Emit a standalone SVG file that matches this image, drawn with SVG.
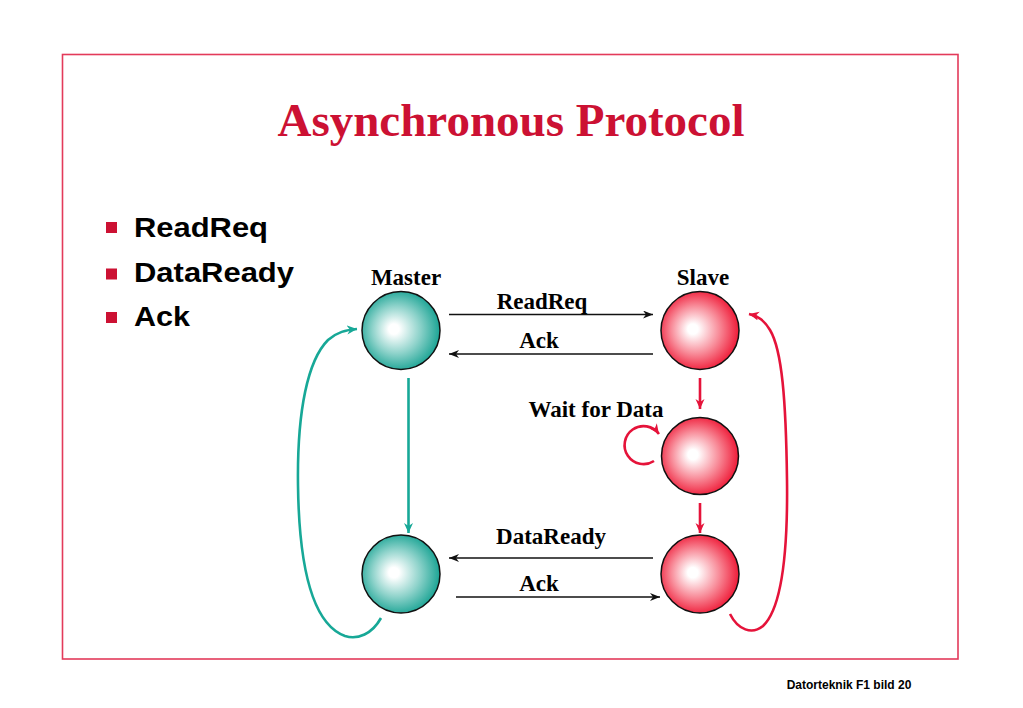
<svg xmlns="http://www.w3.org/2000/svg" width="1023" height="708" viewBox="0 0 1023 708">
<style>
.title{font-family:"Liberation Serif","Times New Roman",serif;font-weight:bold;font-size:47px;fill:#cc1133}
.bul{font-family:"Liberation Sans",Arial,sans-serif;font-weight:bold;font-size:28px;fill:#000}
.lbl{font-family:"Liberation Serif","Times New Roman",serif;font-weight:bold;font-size:23px;fill:#000}
.foot{font-family:"Liberation Sans",Arial,sans-serif;font-weight:bold;font-size:12px;fill:#000}
.blk{stroke:#111;stroke-width:1.3;fill:none}
.teal{stroke:#17a897;stroke-width:2.6;fill:none}
.red{stroke:#e5133a;stroke-width:2.6;fill:none}
.node{stroke:#111;stroke-width:1.5}
</style>
<defs>
<radialGradient id="gT" cx="0.47" cy="0.5" r="0.55" fx="0.4" fy="0.48">
<stop offset="0" stop-color="#ffffff"/>
<stop offset="0.12" stop-color="#ffffff"/>
<stop offset="0.55" stop-color="#8fd3cb"/>
<stop offset="1" stop-color="#12a090"/>
</radialGradient>
<radialGradient id="gR" cx="0.47" cy="0.5" r="0.55" fx="0.4" fy="0.48">
<stop offset="0" stop-color="#ffffff"/>
<stop offset="0.12" stop-color="#ffffff"/>
<stop offset="0.55" stop-color="#f88e9b"/>
<stop offset="1" stop-color="#ee1230"/>
</radialGradient>
<marker id="aB" markerUnits="userSpaceOnUse" markerWidth="12" markerHeight="10" refX="10" refY="4" orient="auto">
<path d="M0,0 L10,4 L0,8 L3,4 Z" fill="#111"/>
</marker>
<marker id="aT" markerUnits="userSpaceOnUse" markerWidth="12" markerHeight="10" refX="10" refY="4.5" orient="auto">
<path d="M0,0 L10,4.5 L0,9 L3,4.5 Z" fill="#17a897"/>
</marker>
<marker id="aR" markerUnits="userSpaceOnUse" markerWidth="12" markerHeight="10" refX="10" refY="4.5" orient="auto">
<path d="M0,0 L10,4.5 L0,9 L3,4.5 Z" fill="#e5133a"/>
</marker>
</defs>
<rect width="1023" height="708" fill="#fff"/>
<rect x="62.5" y="54.5" width="895.5" height="604.5" fill="none" stroke="#e33a5a" stroke-width="1.6"/>
<text class="title" x="511" y="136" text-anchor="middle">Asynchronous Protocol</text>
<g id="bullets">
<rect x="106" y="222" width="11" height="11" fill="#cc1133"/>
<text class="bul" x="134" y="236.5" textLength="134" lengthAdjust="spacingAndGlyphs">ReadReq</text>
<rect x="106" y="268.5" width="11" height="11" fill="#cc1133"/>
<text class="bul" x="134" y="282" textLength="160" lengthAdjust="spacingAndGlyphs">DataReady</text>
<rect x="106" y="312" width="11" height="11" fill="#cc1133"/>
<text class="bul" x="134" y="325.5" textLength="56" lengthAdjust="spacingAndGlyphs">Ack</text>
</g>
<g id="connectors">
<line class="blk" x1="449" y1="314.5" x2="653" y2="314.5" marker-end="url(#aB)"/>
<line class="blk" x1="653" y1="354" x2="449" y2="354" marker-end="url(#aB)"/>
<line class="blk" x1="653" y1="558" x2="449" y2="558" marker-end="url(#aB)"/>
<line class="blk" x1="456" y1="597" x2="660" y2="597" marker-end="url(#aB)"/>
<line class="teal" x1="408.5" y1="378" x2="408.5" y2="533" marker-end="url(#aT)"/>
<line class="red" x1="700" y1="378" x2="700" y2="409" marker-end="url(#aR)"/>
<line class="red" x1="700" y1="503" x2="700" y2="533" marker-end="url(#aR)"/>
<path class="red" d="M654,461 A19,19 0 1 1 659,434" marker-end="url(#aR)"/>
<path class="teal" d="M381,618 C372,634 358,640 345,636 C312,624 299,565 298,485 C297,410 308,360 328,340 C337,332 346,330 357,329" marker-end="url(#aT)"/>
<path class="red" d="M730,614 C738,630 752,635 763,626 C780,610 788,560 787,480 C786,400 782,350 770,330 C764,320 758,316 749,314" marker-end="url(#aR)"/>
</g>
<g id="labels">
<text class="lbl" x="406" y="285" text-anchor="middle">Master</text>
<text class="lbl" x="703" y="285" text-anchor="middle">Slave</text>
<text class="lbl" x="542" y="309" text-anchor="middle">ReadReq</text>
<text class="lbl" x="539" y="347.5" text-anchor="middle">Ack</text>
<text class="lbl" x="596" y="417" text-anchor="middle">Wait for Data</text>
<text class="lbl" x="551" y="544" text-anchor="middle">DataReady</text>
<text class="lbl" x="539" y="591" text-anchor="middle">Ack</text>
</g>
<g id="master-idle"><circle class="node" cx="401" cy="330.5" r="39" fill="url(#gT)"/></g>
<g id="slave-idle"><circle class="node" cx="700" cy="330.5" r="39" fill="url(#gR)"/></g>
<g id="slave-wait"><circle class="node" cx="700" cy="456" r="38.5" fill="url(#gR)"/></g>
<g id="master-data"><circle class="node" cx="401" cy="574" r="39" fill="url(#gT)"/></g>
<g id="slave-data"><circle class="node" cx="700" cy="574" r="39" fill="url(#gR)"/></g>
<text class="foot" x="849" y="689" text-anchor="middle">Datorteknik F1 bild 20</text>
</svg>
